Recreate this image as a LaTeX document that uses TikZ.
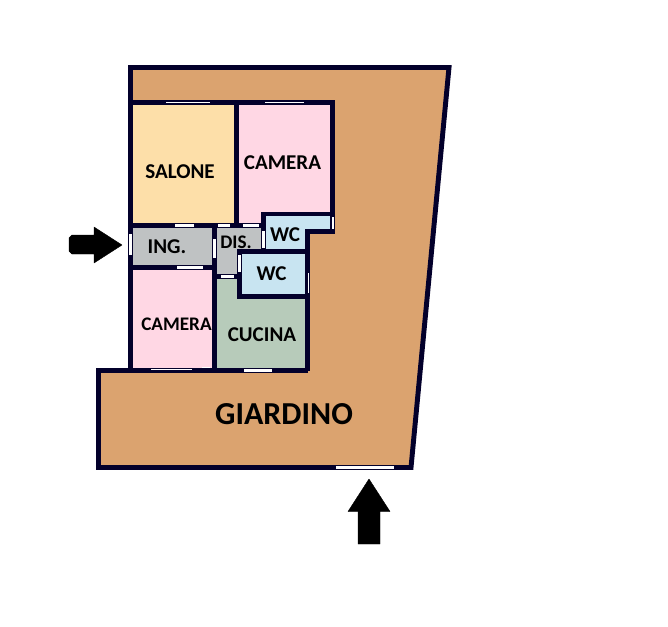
\documentclass[tikz,border=0pt]{standalone}
\usepackage{fontspec}
\setmainfont{Carlito}
\definecolor{wallc}{HTML}{03002B}
\definecolor{gardenc}{HTML}{DBA36F}
\definecolor{saloc}{HTML}{FDDFA9}
\definecolor{camc}{HTML}{FFD7E4}
\definecolor{greyc}{HTML}{BFC2C3}
\definecolor{wcc}{HTML}{C8E4F1}
\definecolor{cucc}{HTML}{B7CBBA}
\tikzset{
  wall/.style={draw=wallc,line width=3.7pt,line join=miter},
  room/.style={draw=none},
  win/.style={fill=white,draw=none},
  lbl/.style={font=\bfseries\fontsize{15.8pt}{15.8pt}\selectfont,text=black,inner sep=0pt},
  lblsm/.style={font=\bfseries\fontsize{14.4pt}{14.4pt}\selectfont,text=black,inner sep=0pt},
  arrowc/.style={fill=black,draw=black,line width=0.3pt,line join=round}
}
\begin{document}
\begin{tikzpicture}[x=0.75pt,y=-0.75pt]
\useasboundingbox (0,0) rectangle (668,626);
% garden
\fill[gardenc] (130.5,67.5) -- (449,67.5) -- (411,467.5) -- (98.5,467.5) -- (98.5,370.5) -- (130.5,370.5) -- cycle;
% rooms
\fill[room,saloc] (130.5,102.5) rectangle (236.5,225.5);
\fill[room,camc] (236.5,102.5) rectangle (332.5,225.5);
\fill[room,greyc] (130.5,225.5) rectangle (214.5,267.5);
\fill[room,camc] (130.5,267.5) rectangle (214.5,370.5);
\fill[room,greyc] (214.5,225.5) -- (263.5,225.5) -- (263.5,251.5) -- (239.5,251.5) -- (239.5,276.5) -- (214.5,276.5) -- cycle;
\fill[room,cucc] (214.5,276.5) -- (239.5,276.5) -- (239.5,296.5) -- (307.5,296.5) -- (307.5,370.5) -- (214.5,370.5) -- cycle;
\fill[room,wcc] (263.5,214) -- (332.5,214) -- (332.5,231.5) -- (307.5,231.5) -- (307.5,251.5) -- (263.5,251.5) -- cycle;
\fill[room,wcc] (239.5,251.5) rectangle (307.5,296.5);
% walls
\draw[wall] (130.5,67.5) -- (449,67.5) -- (411,467.5) -- (98.5,467.5) -- (98.5,370.5) -- (130.5,370.5) -- cycle;
\draw[wall] (130.5,102.5) -- (332.5,102.5) -- (332.5,231.5) -- (307.5,231.5) -- (307.5,370.5);
\draw[wall] (130.5,370.5) -- (307.5,370.5);
\draw[wall] (236.5,102.5) -- (236.5,225.5);
\draw[wall] (130.5,225.5) -- (263.5,225.5);
\draw[wall] (130.5,267.5) -- (214.5,267.5);
\draw[wall] (214.5,225.5) -- (214.5,370.5);
\draw[wall] (263.5,251.5) -- (263.5,214) -- (332.5,214);
\draw[wall] (307.5,251.5) -- (239.5,251.5) -- (239.5,296.5) -- (307.5,296.5);
\draw[wall] (214.5,276.5) -- (239.5,276.5);
% windows and doors
\fill[win] (166,102) rectangle (210,103);
\fill[win] (265,102) rectangle (304,103);
\fill[win] (175,224) rectangle (194,227);
\fill[win] (218,224) rectangle (230,227);
\fill[win] (243,224) rectangle (259,227);
\fill[win] (129,234) rectangle (132,255);
\fill[win] (213,239) rectangle (216,258);
\fill[win] (177,266) rectangle (203,269);
\fill[win] (262,231) rectangle (265,248);
\fill[win] (332,217) rectangle (333.5,229);
\fill[win] (238,255) rectangle (241,272);
\fill[win] (221,275) rectangle (234,278);
\fill[win] (308,273) rectangle (309,293);
\fill[win] (151,369) rectangle (192,370);
\fill[win] (202,367) rectangle (210,368);
\fill[win] (244,369) rectangle (272,372);
\fill[win] (336,466) rectangle (394,469);
% entrance arrows
\path[arrowc] (69,238) -- (69,251) -- (72,254) -- (94,254) -- (94,263) -- (122,245) -- (94,227) -- (94,235) -- (72,235) -- cycle;
\path[arrowc] (369,479) -- (390,511.5) -- (380,511.5) -- (380,544) -- (358,544) -- (358,511.5) -- (348,511.5) -- cycle;
% labels
\node[lbl] (salone) at (180,172) {SALONE};
\node[lbl] (cam1) at (282.5,162.5) {CAMERA};
\node[lbl] (ing) at (167,247) {ING.};
\node[lblsm] (dis) at (236,242) {DIS.};
\node[lbl] (wc1) at (285,235) {WC};
\node[lbl] (wc2) at (271.5,274) {WC};
\node[lblsm] (cam2) at (176.5,324) {CAMERA};
\node[lbl] (cuc) at (262,335) {CUCINA};
\node[font=\bfseries\fontsize{24pt}{24pt}\selectfont,text=black,inner sep=0pt] (giardino) at (284,414) {GIARDINO};
\end{tikzpicture}
\end{document}
